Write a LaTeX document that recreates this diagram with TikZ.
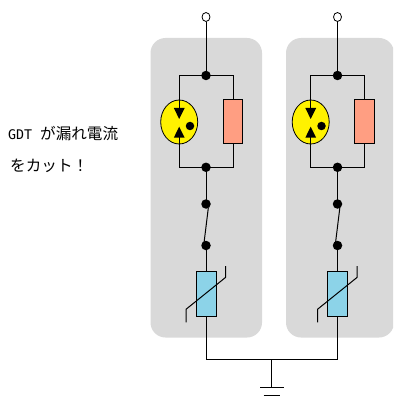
\documentclass[tikz,border=0pt]{standalone}
\usepackage{fontspec}
\usetikzlibrary{shapes.geometric,calc}
\newfontfamily\cjk{Noto Sans CJK JP}
\newfontfamily\halfw{DejaVu Sans Mono}
\newcommand{\hw}[1]{\makebox[8pt][c]{\halfw\fontsize{13.3}{16}\selectfont #1}}
\definecolor{panelgray}{HTML}{D9D9D9}
\definecolor{salmon}{HTML}{FF9E82}
\definecolor{varblue}{HTML}{8CD3E8}
\tikzset{
  panel/.style={fill=panelgray,draw=none,rounded corners=15pt},
  wire/.style={draw=black,line width=1pt},
  junction/.style={circle,fill=black,draw=none,inner sep=0pt,minimum size=9.5pt},
  terminal/.style={ellipse,fill=white,draw=black,line width=0.8pt,inner sep=0pt,minimum width=8pt,minimum height=9pt},
  gdt/.style={ellipse,fill=yellow,draw=black,line width=0.8pt,inner sep=0pt,minimum width=37pt,minimum height=44pt},
  resistor/.style={rectangle,fill=salmon,draw=black,line width=0.9pt,inner sep=0pt,minimum width=19.5pt,minimum height=44.5pt},
  varistor/.style={rectangle,fill=varblue,draw=black,line width=0.9pt,inner sep=0pt,minimum width=20pt,minimum height=45pt},
  label text/.style={inner sep=0pt,anchor=west,font=\cjk\fontsize{15.6}{16}\selectfont},
  tri/.style={fill=black,draw=none}
}
\newcommand{\branch}[2]{%
  \begin{scope}[xshift=#1pt]
    \node[terminal] (t#2) at (206,17) {};
    \coordinate (a#2) at (206,75.5);
    \coordinate (b#2) at (206,167.3);
    \coordinate (c#2) at (206,204);
    \coordinate (d#2) at (206,245.5);
    \coordinate (bus#2) at (206,359.5);
    \node[gdt] (g#2) at (179.2,122) {};
    \node[resistor] (r#2) at (233,121.5) {};
    \node[varistor] (v#2) at (206,293.5) {};
    \draw[wire] (t#2) -- (a#2);
    \draw[wire] (g#2.north) -- (179.2,75.5) -- (a#2) -- (233,75.5) -- (r#2.north);
    \draw[wire] (g#2.south) -- (179.2,167.3) -- (b#2) -- (233,167.3) -- (r#2.south);
    \draw[wire] (b#2) -- (c#2);
    \draw[wire] ($(c#2)+(2.3,4)$) -- ($(d#2)+(-2,-2.5)$);
    \draw[wire] (d#2) -- (v#2.north);
    \draw[wire] (v#2.south) -- (bus#2);
    \draw[wire] (179.2,93) -- (179.2,108);
    \fill[tri] (173.8,108) -- (184.7,108) -- (179.2,119) -- cycle;
    \fill[tri] (173.8,137.7) -- (184.7,137.7) -- (179.2,126.7) -- cycle;
    \draw[wire] (179.2,137) -- (179.2,144);
    \node[junction,minimum size=8.5pt] (e#2) at (190,126) {};
    \node[junction] (ja#2) at (a#2) {};
    \node[junction] (jb#2) at (b#2) {};
    \node[junction] (jc#2) at (c#2) {};
    \node[junction] (jd#2) at (d#2) {};
    \draw[wire] (225.7,266) -- (225.7,277.3) -- (186,309.3) -- (186,322.3);
  \end{scope}}
\begin{document}
\begin{tikzpicture}[x=1pt,y=-1pt]
  \useasboundingbox (0,0) rectangle (393,398);
  \fill[white] (0,0) rectangle (393,398);
  \begin{scope}
    \clip (0,0) rectangle (393,398);
    \fill[panel] (150.5,38) rectangle (262,337.5);
    \fill[panel] (286,38) rectangle (394,337.5);
  \end{scope}
  \branch{0}{L}
  \branch{131.5}{R}
  \coordinate (gt) at (271.8,359.5);
  \coordinate (gb) at (271.8,387.7);
  \coordinate (p1a) at (260,387.7);
  \coordinate (p1b) at (284,387.7);
  \coordinate (p2a) at (263.5,395);
  \coordinate (p2b) at (280,395);
  \draw[wire] (busL) -- (busR);
  \draw[wire] (gt) -- (gb);
  \draw[wire] (p1a) -- (p1b);
  \draw[wire] (p2a) -- (p2b);
  \node[label text] (l1) at (8,134) {\hw{G}\hw{D}\hw{T}\hw{ }が漏れ電流};
  \node[label text] (l2) at (10,165.5) {をカット！};
\end{tikzpicture}
\end{document}
